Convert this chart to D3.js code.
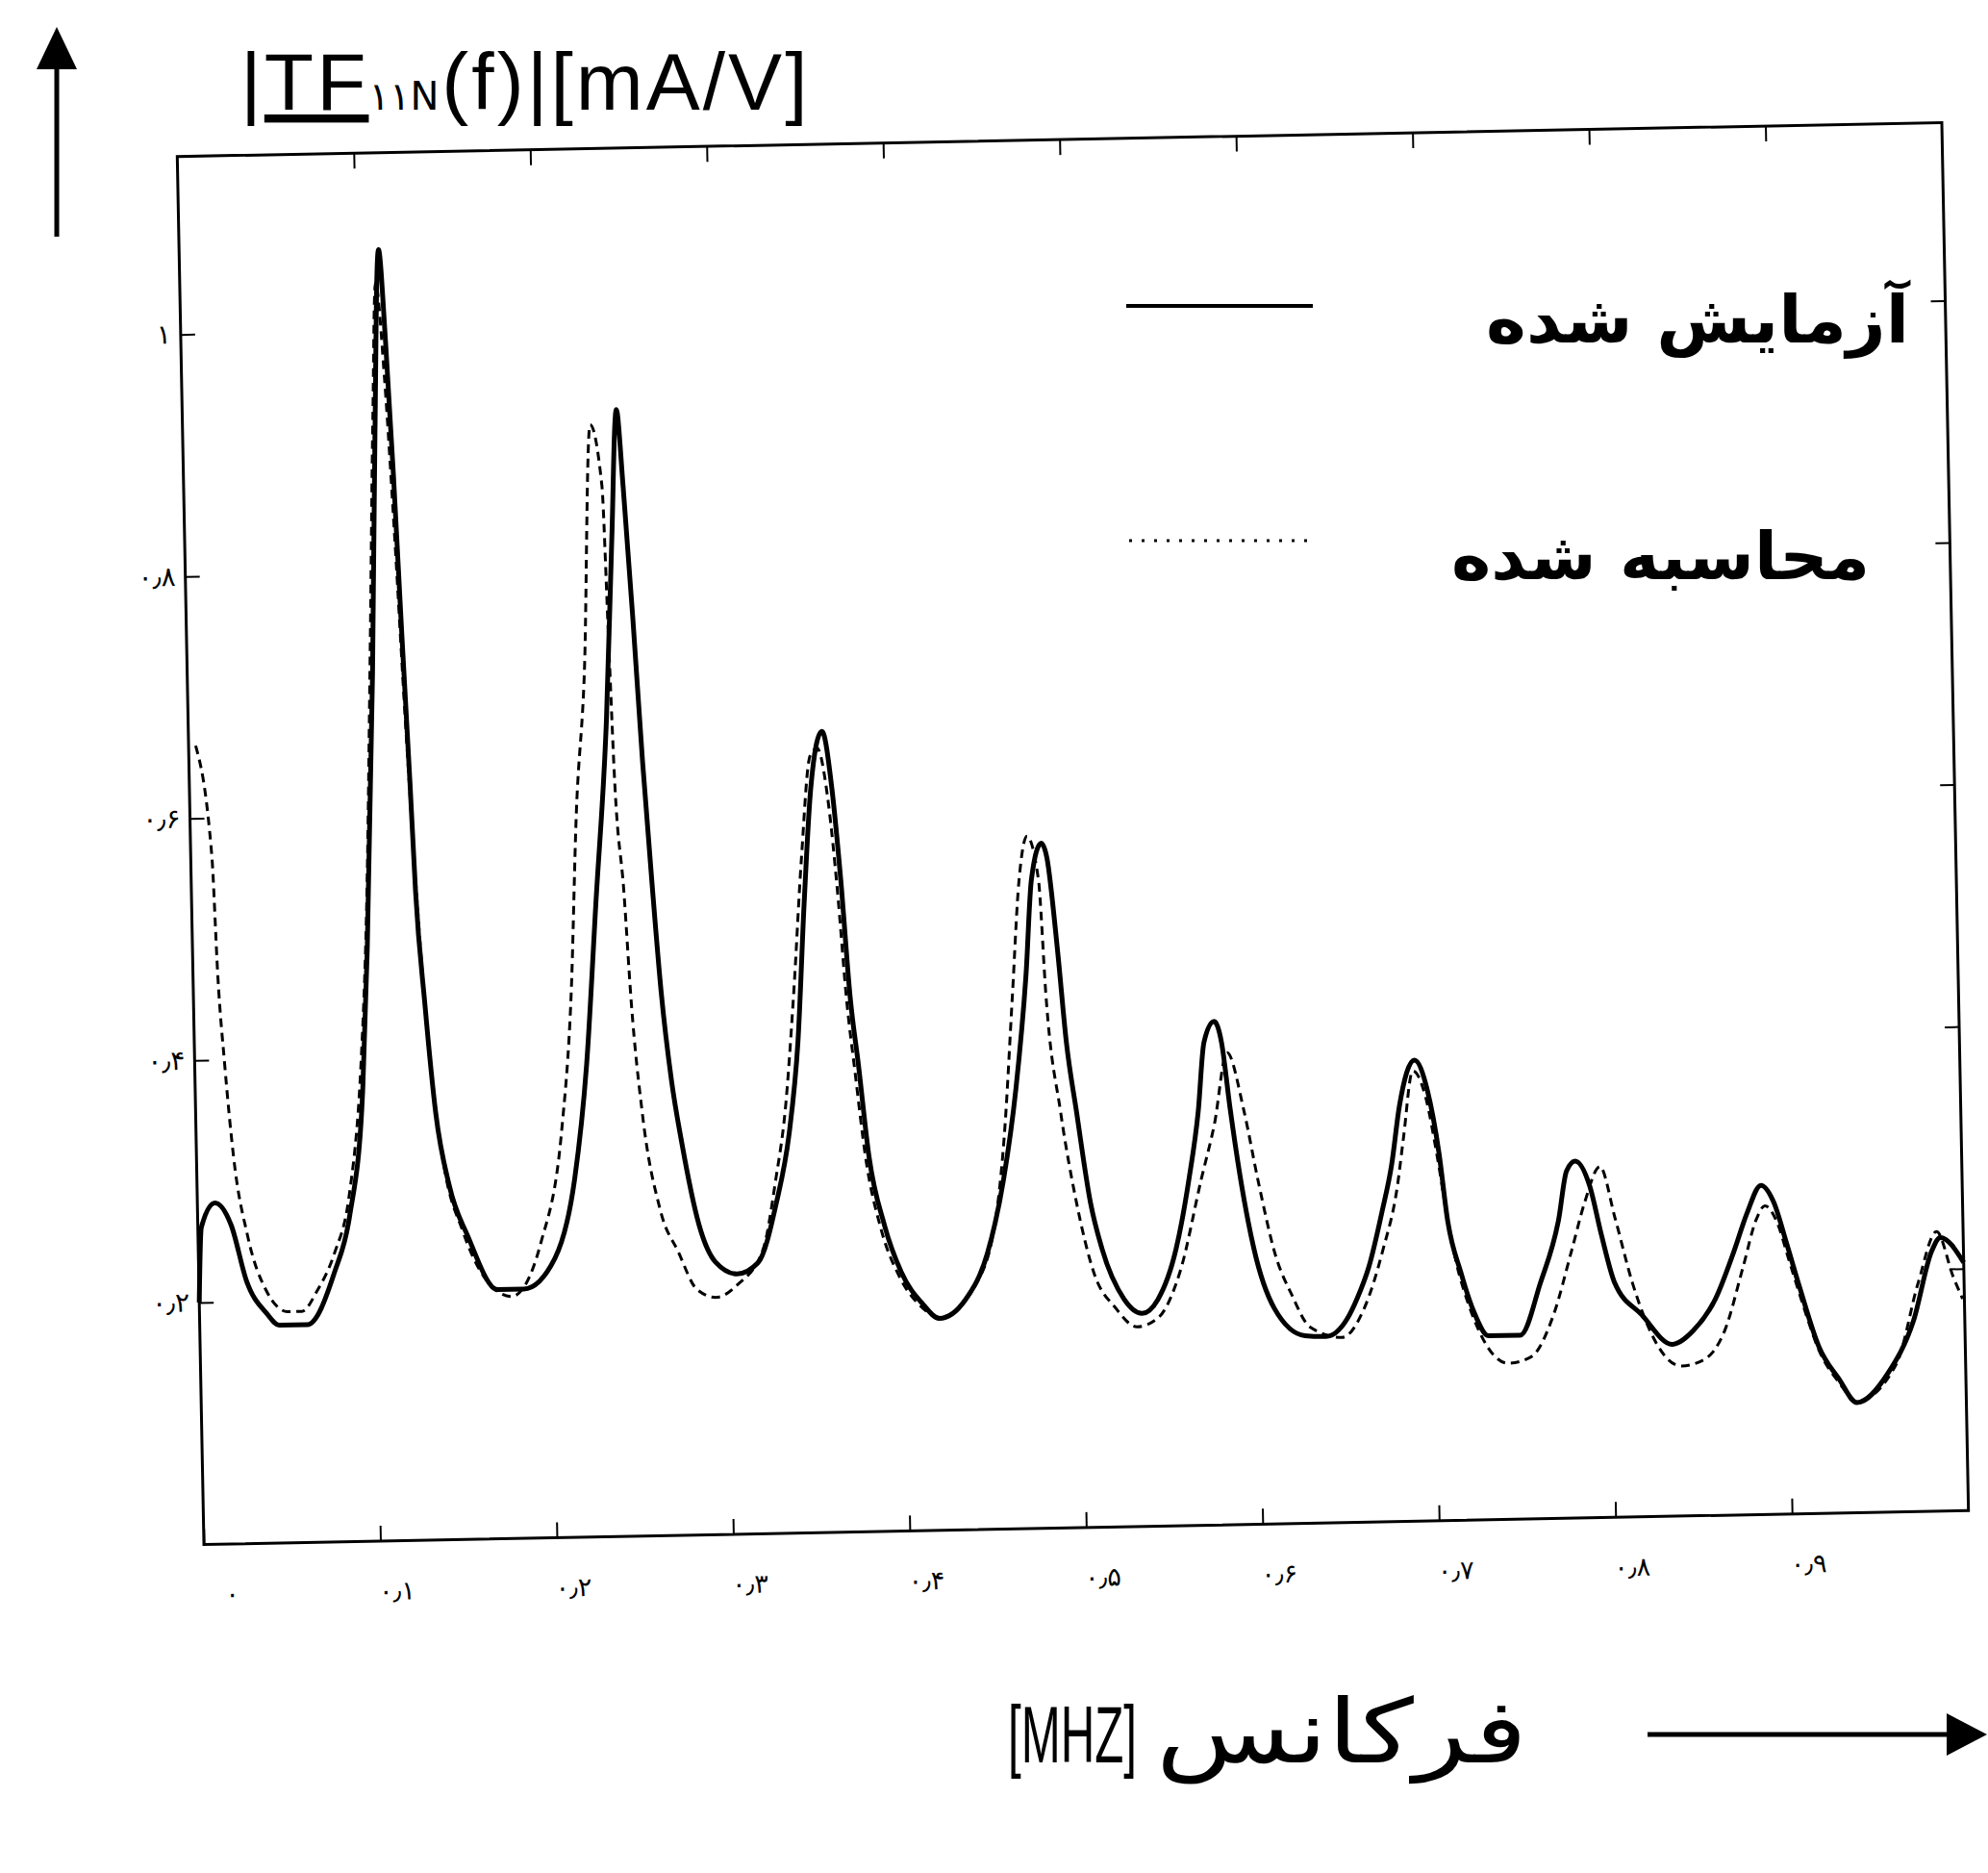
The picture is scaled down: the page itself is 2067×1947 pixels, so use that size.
<!DOCTYPE html>
<html>
<head>
<meta charset="utf-8">
<script src="https://cdn.jsdelivr.net/npm/d3@7"></script>
<style>
  html, body { margin: 0; padding: 0; background: #fff; }
  svg { display: block; }
  .tick line { stroke: #000; stroke-width: 2; }
  .tick text { font-family: "DejaVu Sans", sans-serif; fill: #000; }
</style>
</head>
<body>
<div id="chart"></div>
<script>
// measured transfer function (solid)
const measuredFreq = [0.000, 0.002, 0.010, 0.019, 0.027, 0.038, 0.045, 0.061, 0.077, 0.086,
    0.095, 0.099, 0.105, 0.109, 0.113, 0.116, 0.119, 0.122, 0.125, 0.127,
    0.131, 0.136, 0.143, 0.153, 0.169, 0.184, 0.202, 0.214, 0.222, 0.229,
    0.237, 0.242, 0.246, 0.249, 0.253, 0.257, 0.261, 0.265, 0.270, 0.275,
    0.284, 0.293, 0.305, 0.317, 0.328, 0.336, 0.342, 0.347, 0.352, 0.359,
    0.364, 0.368, 0.372, 0.376, 0.381, 0.389, 0.398, 0.410, 0.419, 0.434,
    0.447, 0.457, 0.465, 0.472, 0.476, 0.482, 0.485, 0.490, 0.494, 0.499,
    0.506, 0.512, 0.524, 0.534, 0.543, 0.554, 0.562, 0.568, 0.572, 0.578,
    0.582, 0.586, 0.591, 0.598, 0.609, 0.626, 0.638, 0.650, 0.656, 0.663,
    0.671, 0.677, 0.682, 0.691, 0.698, 0.704, 0.708, 0.715, 0.722, 0.730,
    0.748, 0.760, 0.771, 0.776, 0.781, 0.789, 0.795, 0.802, 0.817, 0.834,
    0.846, 0.859, 0.870, 0.878, 0.886, 0.893, 0.900, 0.907, 0.917, 0.928,
    0.938, 0.956, 0.971, 0.982, 0.987, 1.000];
const measuredMag = [0.200, 0.262, 0.282, 0.263, 0.217, 0.190, 0.180, 0.180, 0.223, 0.268,
    0.375, 0.489, 0.717, 0.916, 1.067, 0.990, 0.880, 0.749, 0.627, 0.536,
    0.444, 0.353, 0.292, 0.250, 0.206, 0.206, 0.231, 0.296, 0.390, 0.523,
    0.675, 0.824, 0.931, 0.867, 0.760, 0.640, 0.540, 0.450, 0.375, 0.325,
    0.256, 0.225, 0.215, 0.224, 0.273, 0.330, 0.406, 0.520, 0.615, 0.662,
    0.614, 0.539, 0.443, 0.386, 0.310, 0.253, 0.214, 0.187, 0.175, 0.190,
    0.228, 0.289, 0.364, 0.459, 0.536, 0.566, 0.554, 0.478, 0.402, 0.344,
    0.268, 0.230, 0.188, 0.176, 0.187, 0.229, 0.286, 0.342, 0.399, 0.416,
    0.398, 0.345, 0.288, 0.228, 0.178, 0.155, 0.154, 0.168, 0.185, 0.211,
    0.256, 0.295, 0.343, 0.381, 0.356, 0.303, 0.249, 0.205, 0.172, 0.152,
    0.152, 0.195, 0.247, 0.287, 0.295, 0.274, 0.234, 0.194, 0.167, 0.142,
    0.153, 0.179, 0.218, 0.250, 0.272, 0.258, 0.223, 0.186, 0.138, 0.111,
    0.091, 0.115, 0.158, 0.215, 0.226, 0.205];

// calculated transfer function (dashed)
const calcFreq = [0.004, 0.012, 0.014, 0.017, 0.021, 0.028, 0.038, 0.050, 0.058, 0.067,
    0.077, 0.086, 0.094, 0.099, 0.104, 0.108, 0.111, 0.115, 0.119, 0.123,
    0.127, 0.132, 0.140, 0.150, 0.165, 0.177, 0.194, 0.207, 0.214, 0.219,
    0.225, 0.231, 0.237, 0.239, 0.241, 0.245, 0.248, 0.253, 0.262, 0.272,
    0.282, 0.293, 0.305, 0.320, 0.328, 0.334, 0.340, 0.346, 0.352, 0.356,
    0.362, 0.366, 0.370, 0.374, 0.379, 0.387, 0.397, 0.409, 0.419, 0.444,
    0.458, 0.464, 0.469, 0.474, 0.480, 0.483, 0.490, 0.498, 0.507, 0.519,
    0.531, 0.543, 0.556, 0.569, 0.577, 0.585, 0.594, 0.601, 0.610, 0.619,
    0.629, 0.647, 0.660, 0.671, 0.680, 0.684, 0.690, 0.697, 0.703, 0.708,
    0.713, 0.718, 0.741, 0.754, 0.767, 0.778, 0.786, 0.795, 0.803, 0.812,
    0.839, 0.852, 0.864, 0.875, 0.883, 0.888, 0.895, 0.901, 0.908, 0.917,
    0.928, 0.938, 0.961, 0.974, 0.985, 0.994, 0.999];
const calcMag = [0.660, 0.568, 0.472, 0.396, 0.320, 0.255, 0.209, 0.191, 0.191, 0.208,
    0.238, 0.285, 0.390, 0.520, 0.740, 0.930, 1.040, 0.960, 0.830, 0.680,
    0.550, 0.420, 0.310, 0.255, 0.210, 0.200, 0.243, 0.334, 0.448, 0.600,
    0.714, 0.919, 0.868, 0.746, 0.624, 0.533, 0.441, 0.350, 0.270, 0.234,
    0.203, 0.196, 0.206, 0.235, 0.293, 0.349, 0.444, 0.558, 0.642, 0.648,
    0.600, 0.530, 0.440, 0.380, 0.310, 0.250, 0.210, 0.185, 0.176, 0.213,
    0.327, 0.441, 0.536, 0.572, 0.536, 0.440, 0.344, 0.269, 0.211, 0.181,
    0.165, 0.172, 0.210, 0.286, 0.331, 0.390, 0.341, 0.285, 0.223, 0.189,
    0.162, 0.153, 0.177, 0.224, 0.277, 0.317, 0.372, 0.350, 0.300, 0.250,
    0.210, 0.183, 0.129, 0.134, 0.168, 0.221, 0.261, 0.290, 0.247, 0.194,
    0.124, 0.129, 0.153, 0.205, 0.244, 0.255, 0.240, 0.210, 0.175, 0.135,
    0.108, 0.092, 0.123, 0.189, 0.231, 0.193, 0.175];

const xTickValues = [0, 0.1, 0.2, 0.3, 0.4, 0.5, 0.6, 0.7, 0.8, 0.9];
const xTickLabels = ["۰", "۰٫۱", "۰٫۲", "۰٫۳", "۰٫۴", "۰٫۵", "۰٫۶", "۰٫۷", "۰٫۸", "۰٫۹"];
const yTickValues = [0.2, 0.4, 0.6, 0.8, 1];
const yTickLabels = ["۰٫۲", "۰٫۴", "۰٫۶", "۰٫۸", "۱"];
const legendLabels = ["آزمایش شده", "محاسبه شده"];
const xTitleUnit = "[MHZ]";
const xTitleWord = "فرکانس";

const W = 2067, H = 1947;
const plotW = 1835, plotH = 1443;

const svg = d3.select("#chart").append("svg")
    .attr("width", W).attr("height", H);

// the scanned figure sits slightly tilted, so the whole frame is rotated a little
const plot = svg.append("g")
    .attr("transform", "rotate(-1.1 1115.5 866.5) translate(198,145)");

const x = d3.scaleLinear().domain([0, 1]).range([0, plotW]);
const y = d3.scaleLinear().domain([0, 1.147]).range([plotH, 0]);

const stripDomain = g => g.select(".domain").remove();

plot.append("g").attr("transform", `translate(0,${plotH})`)
    .call(d3.axisBottom(x).tickValues(xTickValues).tickSize(-16).tickPadding(42)
        .tickFormat((d, i) => xTickLabels[i]))
    .call(stripDomain)
    .call(g => g.selectAll("text").attr("font-size", 27).attr("letter-spacing", 2)
        .attr("dx", (d, i) => i === 0 ? 28 : 16));

plot.append("g")
    .call(d3.axisTop(x).tickValues(xTickValues.slice(1)).tickSize(-16).tickFormat(""))
    .call(stripDomain);

plot.append("g")
    .call(d3.axisLeft(y).tickValues(yTickValues).tickSize(-15).tickPadding(10)
        .tickFormat((d, i) => yTickLabels[i]))
    .call(stripDomain)
    .call(g => g.selectAll("text").attr("font-size", 28).attr("letter-spacing", 5));

plot.append("g").attr("transform", `translate(${plotW},0)`)
    .call(d3.axisRight(y).tickValues(yTickValues).tickSize(-15).tickFormat(""))
    .call(stripDomain);

plot.append("rect")
    .attr("width", plotW).attr("height", plotH)
    .attr("fill", "none").attr("stroke", "#000").attr("stroke-width", 3);

const line = d3.line().x(d => x(d[0])).y(d => y(d[1])).curve(d3.curveMonotoneX);

plot.append("path")
    .datum(d3.zip(calcFreq, calcMag))
    .attr("d", line)
    .attr("fill", "none").attr("stroke", "#000")
    .attr("stroke-width", 3).attr("stroke-dasharray", "9 6");

plot.append("path")
    .datum(d3.zip(measuredFreq, measuredMag))
    .attr("d", line)
    .attr("fill", "none").attr("stroke", "#000")
    .attr("stroke-width", 5).attr("stroke-linejoin", "round");

// legend
const legend = svg.append("g");
legend.append("line").attr("x1", 1171).attr("x2", 1365).attr("y1", 318).attr("y2", 318)
    .attr("stroke", "#000").attr("stroke-width", 4);
legend.append("line").attr("x1", 1174).attr("x2", 1359).attr("y1", 562).attr("y2", 562)
    .attr("stroke", "#000").attr("stroke-width", 3).attr("stroke-dasharray", "3 10");
legend.selectAll("text").data(legendLabels).enter().append("text")
    .attr("x", (d, i) => i === 0 ? 1545 : 1509)
    .attr("y", (d, i) => i === 0 ? 356 : 602)
    .attr("textLength", (d, i) => i === 0 ? 440 : 435)
    .attr("lengthAdjust", "spacingAndGlyphs")
    .attr("font-family", "DejaVu Sans, sans-serif")
    .attr("font-weight", "bold")
    .attr("font-size", 68)
    .text(d => d);

// y title with arrow
svg.append("path").attr("d", "M59,246 L59,68").attr("stroke", "#000").attr("stroke-width", 5);
svg.append("path").attr("d", "M59,28 L80,72 L38,72 Z").attr("fill", "#000");

const title = svg.append("text")
    .attr("x", 250).attr("y", 114)
    .attr("font-family", "Liberation Sans, Arial, sans-serif")
    .attr("font-size", 84)
    .attr("letter-spacing", 3);
title.append("tspan").text("|");
title.append("tspan").attr("text-decoration", "underline").text("TF");
title.append("tspan").attr("font-size", 40).attr("font-family", "DejaVu Sans, sans-serif").text("۱۱N");
title.append("tspan").text("(f)|[mA/V]");

// x title: squeeze each part to the width it has in the figure
function squeezedText(str, family, size, left, base, width) {
    const t = svg.append("text")
        .attr("font-family", family)
        .attr("font-size", size)
        .text(str);
    const natural = t.node().getComputedTextLength();
    t.attr("transform", `translate(${left},${base}) scale(${width / natural},1)`);
    return t;
}
squeezedText(xTitleUnit, "Liberation Sans Narrow, Liberation Sans, Arial, sans-serif", 84, 1048, 1832, 134);
squeezedText(xTitleWord, "DejaVu Sans, sans-serif", 92, 1202, 1832, 386);

svg.append("path").attr("d", "M1713,1803 L2030,1803").attr("stroke", "#000").attr("stroke-width", 5);
svg.append("path").attr("d", "M2066,1803 L2024,1781 L2024,1825 Z").attr("fill", "#000");
</script>
</body>
</html>
